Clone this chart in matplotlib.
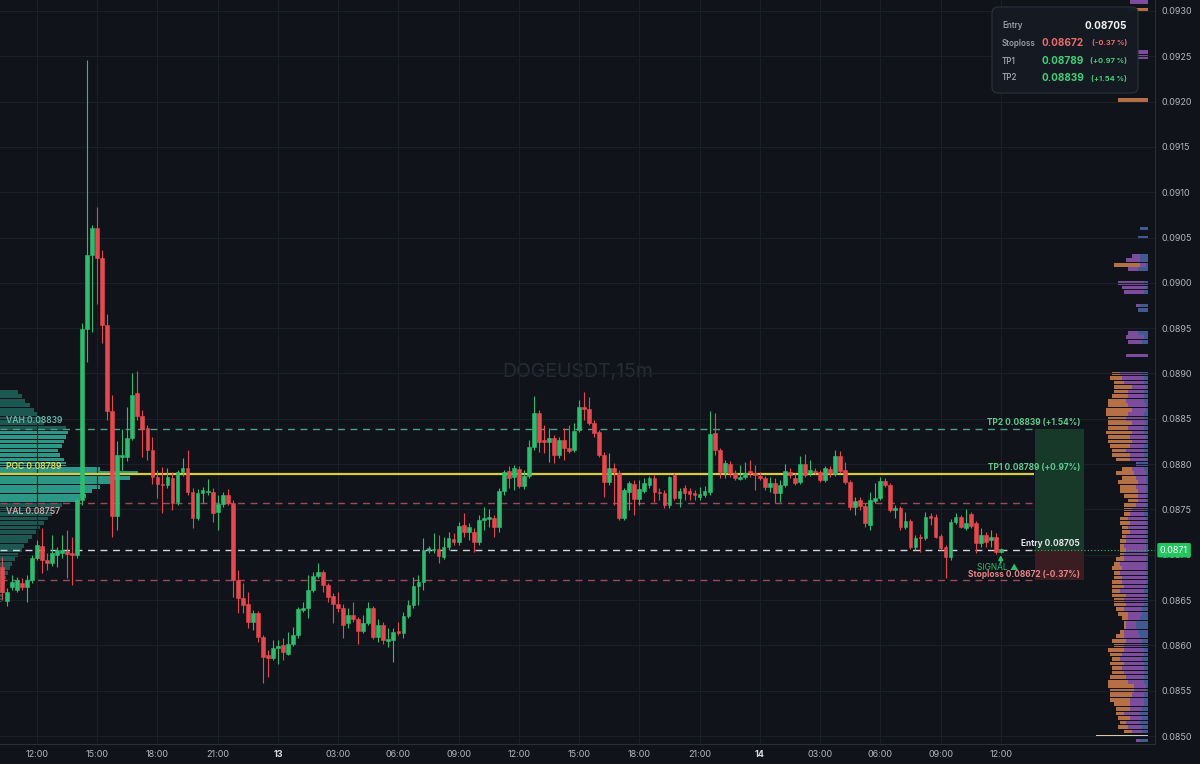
import numpy as np
import pandas as pd
import matplotlib
matplotlib.use("Agg")
import matplotlib.pyplot as plt
from matplotlib.patches import FancyBboxPatch, Rectangle
from matplotlib.transforms import blended_transform_factory, IdentityTransform

# ---------------- data ----------------
SYMBOL = "DOGEUSDT,15m"
START = "2024-01-12 10:15"

open_ = [0.08686,0.08649,0.08664,0.08661,0.08669,0.08664,0.08672,0.08696,0.08710,0.08694,
 0.08691,0.08700,0.08702,0.08704,0.08702,0.08700,0.08760,0.08949,0.09031,0.09061,
 0.09027,0.08954,0.08859,0.08743,0.08808,0.08808,0.08829,0.08878,0.08853,0.08840,
 0.08816,0.08786,0.08778,0.08777,0.08785,0.08758,0.08791,0.08796,0.08769,0.08741,
 0.08768,0.08769,0.08769,0.08747,0.08756,0.08766,0.08757,0.08672,0.08652,0.08646,
 0.08626,0.08636,0.08609,0.08589,0.08586,0.08597,0.08600,0.08591,0.08601,0.08611,
 0.08639,0.08641,0.08661,0.08677,0.08681,0.08667,0.08654,0.08646,0.08641,0.08625,
 0.08634,0.08629,0.08616,0.08625,0.08641,0.08609,0.08623,0.08605,0.08606,0.08616,
 0.08614,0.08632,0.08645,0.08665,0.08670,0.08705,0.08705,0.08706,0.08698,0.08709,
 0.08717,0.08714,0.08733,0.08725,0.08725,0.08714,0.08738,0.08739,0.08741,0.08731,
 0.08770,0.08792,0.08786,0.08795,0.08776,0.08787,0.08819,0.08856,0.08827,0.08824,
 0.08829,0.08810,0.08827,0.08818,0.08816,0.08838,0.08863,0.08861,0.08845,0.08835,
 0.08810,0.08780,0.08796,0.08790,0.08741,0.08769,0.08778,0.08762,0.08770,0.08777,
 0.08785,0.08769,0.08768,0.08755,0.08788,0.08763,0.08774,0.08770,0.08768,0.08764,
 0.08766,0.08769,0.08834,0.08816,0.08791,0.08800,0.08790,0.08784,0.08786,0.08792,
 0.08790,0.08787,0.08785,0.08775,0.08779,0.08768,0.08777,0.08791,0.08785,0.08780,
 0.08800,0.08790,0.08792,0.08791,0.08782,0.08795,0.08789,0.08809,0.08794,0.08780,
 0.08753,0.08760,0.08754,0.08733,0.08759,0.08763,0.08781,0.08777,0.08749,0.08752,
 0.08731,0.08737,0.08709,0.08720,0.08718,0.08743,0.08742,0.08721,0.08709,0.08698,
 0.08736,0.08742,0.08730,0.08745,0.08735,0.08713,0.08722,0.08716,0.08720,0.08703]

high = [0.08698,0.08663,0.08678,0.08676,0.08674,0.08678,0.08700,0.08716,0.08730,0.08702,
 0.08722,0.08709,0.08722,0.08727,0.08720,0.08763,0.08956,0.09246,0.09064,0.09084,
 0.09036,0.08966,0.08876,0.08826,0.08839,0.08863,0.08901,0.08903,0.08860,0.08843,
 0.08830,0.08794,0.08797,0.08796,0.08791,0.08794,0.08807,0.08816,0.08774,0.08773,
 0.08775,0.08784,0.08774,0.08766,0.08769,0.08773,0.08760,0.08683,0.08669,0.08659,
 0.08639,0.08638,0.08611,0.08595,0.08606,0.08606,0.08608,0.08615,0.08620,0.08642,
 0.08648,0.08678,0.08681,0.08691,0.08683,0.08669,0.08658,0.08659,0.08646,0.08641,
 0.08648,0.08631,0.08633,0.08648,0.08643,0.08629,0.08626,0.08619,0.08619,0.08626,
 0.08637,0.08650,0.08675,0.08678,0.08718,0.08710,0.08724,0.08722,0.08720,0.08725,
 0.08724,0.08736,0.08746,0.08735,0.08730,0.08744,0.08753,0.08750,0.08744,0.08774,
 0.08794,0.08798,0.08799,0.08798,0.08794,0.08827,0.08875,0.08860,0.08843,0.08840,
 0.08832,0.08830,0.08840,0.08843,0.08845,0.08871,0.08880,0.08874,0.08849,0.08838,
 0.08813,0.08812,0.08801,0.08794,0.08774,0.08781,0.08782,0.08782,0.08785,0.08787,
 0.08788,0.08774,0.08771,0.08787,0.08790,0.08774,0.08777,0.08774,0.08771,0.08775,
 0.08776,0.08859,0.08856,0.08818,0.08805,0.08803,0.08794,0.08799,0.08802,0.08805,
 0.08799,0.08791,0.08787,0.08786,0.08785,0.08782,0.08800,0.08796,0.08790,0.08809,
 0.08811,0.08805,0.08796,0.08794,0.08798,0.08798,0.08816,0.08814,0.08802,0.08782,
 0.08764,0.08764,0.08757,0.08769,0.08779,0.08786,0.08785,0.08779,0.08755,0.08754,
 0.08747,0.08739,0.08722,0.08723,0.08747,0.08746,0.08745,0.08723,0.08711,0.08739,
 0.08746,0.08744,0.08750,0.08747,0.08737,0.08730,0.08725,0.08727,0.08724,0.08707]

low = [0.08650,0.08643,0.08661,0.08659,0.08661,0.08648,0.08669,0.08694,0.08680,0.08683,
 0.08688,0.08686,0.08696,0.08674,0.08667,0.08696,0.08755,0.08913,0.08946,0.08977,
 0.08934,0.08849,0.08720,0.08727,0.08794,0.08803,0.08827,0.08849,0.08808,0.08805,
 0.08778,0.08763,0.08746,0.08774,0.08749,0.08755,0.08787,0.08766,0.08730,0.08738,
 0.08757,0.08766,0.08736,0.08727,0.08753,0.08755,0.08653,0.08636,0.08636,0.08619,
 0.08617,0.08604,0.08558,0.08565,0.08584,0.08580,0.08584,0.08589,0.08599,0.08608,
 0.08637,0.08630,0.08659,0.08674,0.08659,0.08648,0.08625,0.08637,0.08608,0.08619,
 0.08626,0.08602,0.08614,0.08622,0.08607,0.08604,0.08601,0.08598,0.08582,0.08611,
 0.08608,0.08630,0.08641,0.08645,0.08661,0.08702,0.08702,0.08691,0.08695,0.08705,
 0.08711,0.08711,0.08720,0.08716,0.08703,0.08711,0.08727,0.08731,0.08720,0.08725,
 0.08766,0.08774,0.08771,0.08774,0.08773,0.08785,0.08816,0.08813,0.08812,0.08802,
 0.08801,0.08807,0.08805,0.08812,0.08813,0.08835,0.08849,0.08843,0.08830,0.08808,
 0.08764,0.08777,0.08755,0.08738,0.08738,0.08749,0.08744,0.08755,0.08768,0.08774,
 0.08758,0.08760,0.08752,0.08752,0.08760,0.08753,0.08760,0.08760,0.08760,0.08760,
 0.08764,0.08766,0.08810,0.08785,0.08785,0.08786,0.08782,0.08782,0.08784,0.08786,
 0.08771,0.08782,0.08771,0.08769,0.08757,0.08758,0.08775,0.08785,0.08777,0.08778,
 0.08786,0.08787,0.08789,0.08780,0.08780,0.08786,0.08787,0.08790,0.08778,0.08749,
 0.08744,0.08749,0.08731,0.08727,0.08757,0.08760,0.08775,0.08747,0.08741,0.08727,
 0.08728,0.08706,0.08705,0.08703,0.08716,0.08733,0.08718,0.08705,0.08674,0.08694,
 0.08734,0.08730,0.08727,0.08730,0.08702,0.08709,0.08709,0.08709,0.08701,0.08702]

close = [0.08659,0.08659,0.08670,0.08672,0.08664,0.08672,0.08696,0.08711,0.08694,0.08691,
 0.08702,0.08705,0.08705,0.08701,0.08700,0.08760,0.08949,0.09031,0.09061,0.09027,
 0.08954,0.08859,0.08743,0.08810,0.08810,0.08829,0.08876,0.08853,0.08839,0.08816,
 0.08786,0.08778,0.08777,0.08786,0.08757,0.08791,0.08796,0.08769,0.08741,0.08768,
 0.08771,0.08770,0.08746,0.08756,0.08766,0.08757,0.08672,0.08652,0.08645,0.08626,
 0.08636,0.08609,0.08587,0.08586,0.08597,0.08599,0.08593,0.08602,0.08611,0.08640,
 0.08641,0.08661,0.08677,0.08681,0.08667,0.08653,0.08646,0.08641,0.08622,0.08633,
 0.08629,0.08616,0.08625,0.08641,0.08609,0.08623,0.08606,0.08607,0.08615,0.08614,
 0.08632,0.08645,0.08665,0.08670,0.08705,0.08707,0.08706,0.08699,0.08709,0.08718,
 0.08714,0.08732,0.08725,0.08731,0.08714,0.08738,0.08741,0.08742,0.08731,0.08770,
 0.08791,0.08785,0.08796,0.08776,0.08787,0.08819,0.08856,0.08824,0.08824,0.08829,
 0.08810,0.08827,0.08818,0.08814,0.08837,0.08863,0.08861,0.08845,0.08834,0.08810,
 0.08780,0.08796,0.08791,0.08741,0.08771,0.08779,0.08762,0.08773,0.08779,0.08785,
 0.08769,0.08768,0.08755,0.08786,0.08763,0.08770,0.08768,0.08767,0.08766,0.08767,
 0.08770,0.08833,0.08816,0.08791,0.08801,0.08790,0.08785,0.08786,0.08790,0.08790,
 0.08788,0.08785,0.08775,0.08779,0.08768,0.08777,0.08792,0.08788,0.08779,0.08800,
 0.08788,0.08794,0.08791,0.08782,0.08796,0.08790,0.08809,0.08792,0.08780,0.08753,
 0.08759,0.08754,0.08735,0.08760,0.08763,0.08781,0.08777,0.08749,0.08752,0.08731,
 0.08737,0.08709,0.08718,0.08718,0.08742,0.08741,0.08720,0.08707,0.08698,0.08736,
 0.08742,0.08731,0.08735,0.08732,0.08713,0.08722,0.08714,0.08720,0.08703,0.08706]

# trade levels / value area
entry, stoploss, tp1, tp2 = 0.08705, 0.08672, 0.08789, 0.08839
poc, vah, val = 0.08789, 0.08839, 0.08757
last_price_text = "0.0871"
info_rows = [("Entry", "0.08705", ""), ("Stoploss", "0.08672", "(-0.37 %)"),
             ("TP1", "0.08789", "(+0.97 %)"), ("TP2", "0.08839", "(+1.54 %)")]

# left session volume profile (price bins, volume)
lp_price = np.round(np.arange(0.08650, 0.088801, 0.00005), 5)
lp_vol = [2,3,4,4,5,6,8,10,12,15,18,22,24,28,32,36,40,44,48,52,56,62,
          80,86,92,100,112,130,138,100,66,64,60,58,62,64,66,68,66,
          44,42,38,34,30,25,22,18]

# right visible-range volume profile (three stacked parts per row)
rp_price_dense = np.round(np.arange(0.08500, 0.089001, 0.00005), 5)
rp_orange_dense = [0,8,10,6,12,8,14,16,20,22, 24,26,20,16,12,10,14,8,12,16,
                   10,14,8,4,2,2,6,10,8,12, 10,14,8,12,10,8,6,10,6,8,
                   4,6,4,6,4,8,6,10,8,6, 8,12,10,14,18,16,20,14,18,10,
                   0,14,18,14,20,24,22,26,20,24, 18,22,26,20,18,16,14,18,10,12, 8]
rp_purple_dense = [0,10,14,14,12,16,12,14,14,12, 12,12,16,18,20,22,20,22,22,20,
                   18,16,16,14,10,10,12,14,18,18, 20,20,24,22,24,24,26,24,26,22,
                   22,20,22,20,20,16,18,16,18,14, 12,10,8,8,8,10,8,10,12,12,
                   2,16,14,18,14,14,16,12,16,14, 18,16,14,18,18,16,16,14,20,22, 22]
rp_blue_dense = [0,6,6,8,6,8,6,4,4,4, 2,2,4,4,4,4,4,6,4,4,
                 6,6,8,10,12,12,8,6,6,4, 4,2,4,2,2,2,2,2,2,2,
                 2,2,2,2,2,2,2,2,2,4, 4,2,2,2,2,2,2,2,2,4,
                 10,2,4,4,4,2,2,4,4,2, 4,4,2,2,4,4,4,2,4,4, 6]
rp_price_sparse = [0.08495,0.08920,0.08935,0.08940,0.08945,0.08970,0.08975,0.08990,0.08995,
                   0.09000,0.09015,0.09020,0.09025,0.09030,0.09050,0.09060,0.09202,0.09249,
                   0.09255,0.09301,0.09310]
rp_orange_sparse = [0,0,0,0,0,0,0,0,0,0,0,26,0,0,0,0,30,0,0,20,0]
rp_purple_sparse = [4,22,14,18,10,0,4,20,24,26,10,6,14,8,0,0,0,10,12,0,18]
rp_blue_sparse = [8,0,6,4,10,10,8,4,2,4,10,2,8,8,10,8,0,0,0,0,0]
rp_hi_price = [0.08500]
rp_hi_vol = [52]

# axis ticks
price_ticks = np.round(np.arange(0.0850, 0.09301, 0.0005), 4)
time_tick_hours = np.arange(12, 61, 3)
time_tick_labels = ["12:00", "15:00", "18:00", "21:00", "13", "03:00", "06:00", "09:00",
                    "12:00", "15:00", "18:00", "21:00", "14", "03:00", "06:00", "09:00", "12:00"]

# ---------------- style ----------------
BG = "#10131a"
GRID = "#1b1f28"
TXT = "#b2b5be"
UP = "#2ebd6e"
DN = "#e5484d"
plt.rcParams['font.family'] = ['Inter', 'DejaVu Sans']

W, H = 1200, 764
fig = plt.figure(figsize=(W / 100, H / 100), dpi=100, facecolor=BG)
rect = [0, 20 / H, 1155 / W, 744 / H]
XLIM = (10.16, 67.68)
YLIM = (0.084912, 0.093121)

# --- left profile (behind) ---
ax_lp = fig.add_axes(rect, zorder=0)
ax_lp.set_xlim(0, 1155)
ax_lp.set_ylim(*YLIM)
ax_lp.axis("off")
lp_cols = ["#2e9f8d" if (val - 1e-7) <= p <= (vah + 1e-7) else "#1d5b55" for p in lp_price]
ax_lp.barh(lp_price, lp_vol, height=0.000042, color=lp_cols, alpha=0.95, linewidth=0)

# --- right profile (behind) ---
ax_rp = fig.add_axes([0, 20 / H, 1148 / W, 744 / H], zorder=0)
ax_rp.set_xlim(1148, 0)
ax_rp.set_ylim(*YLIM)
ax_rp.axis("off")
rp_price = np.concatenate([rp_price_dense, rp_price_sparse])
rp_b = np.array(rp_blue_dense + rp_blue_sparse, float)
rp_p = np.array(rp_purple_dense + rp_purple_sparse, float)
rp_o = np.array(rp_orange_dense + rp_orange_sparse, float)
hh = 0.000041
ax_rp.barh(rp_price, rp_b, left=0, height=hh, color="#4a68a8", alpha=0.85, linewidth=0)
ax_rp.barh(rp_price, rp_p, left=rp_b, height=hh, color="#9257b5", alpha=0.85, linewidth=0)
ax_rp.barh(rp_price, rp_o, left=rp_b + rp_p, height=hh, color="#d3814e", alpha=0.85, linewidth=0)
ax_rp.barh(rp_hi_price, rp_hi_vol, left=0, height=0.00003, color="#ddd5bb", linewidth=0)

# --- main axes ---
ax = fig.add_axes(rect, zorder=1)
ax.set_facecolor("none")
ax.set_xlim(*XLIM)
ax.set_ylim(*YLIM)

t = pd.date_range(START, periods=len(close), freq="15min")
x = ((t - t[0].normalize()) / pd.Timedelta(hours=1)).to_numpy()
o = np.array(open_); c = np.array(close); hi = np.array(high); lo = np.array(low)
cols = np.where(c >= o, UP, DN)

ax.set_yticks(price_ticks)
ax.set_yticklabels([f"{v:.4f}" for v in price_ticks])
ax.yaxis.tick_right()
ax.set_xticks(time_tick_hours)
ax.set_xticklabels(time_tick_labels)
ax.tick_params(axis="y", length=0, pad=5, labelsize=6.5, colors=TXT)
ax.tick_params(axis="x", length=0, pad=4, labelsize=6.5, colors=TXT)
for lab in ax.get_xticklabels():
    if lab.get_text() in ("13", "14"):
        lab.set_fontweight("bold")
        lab.set_color("#d8dbe2")
ax.grid(True, color=GRID, linewidth=0.8)
ax.set_axisbelow(True)
for s in ("top", "left"):
    ax.spines[s].set_visible(False)
for s in ("right", "bottom"):
    ax.spines[s].set_color("#2a2e39")
    ax.spines[s].set_linewidth(0.8)

# watermark
ax.text(0.5, 0.5, SYMBOL, transform=ax.transAxes, ha="center", va="center",
        fontsize=14, color="#272b35", zorder=0.5)

# levels
LINE_END = 61.65
BOX_X0, BOX_X1 = 61.70, 64.14
LABEL_X = 63.94
x0 = XLIM[0]
ax.hlines(entry, LINE_END, XLIM[1], colors="#22c55e", linestyles=[(0, (1, 2))],
          linewidth=0.8, zorder=1.5)
dash = (0, (5, 4))
ax.hlines(tp2, x0, LINE_END, colors="#4f9e86", linestyles=[dash], linewidth=1.0, zorder=2)
ax.hlines(val, x0, LINE_END, colors="#9a4c56", linestyles=[dash], linewidth=1.0, zorder=2)
ax.hlines(stoploss, x0, LINE_END, colors="#9a4c56", linestyles=[dash], linewidth=1.0, zorder=2)
ax.hlines(entry, x0, LINE_END, colors="#d2d5dc", linestyles=[dash], linewidth=1.0, zorder=2)
ax.hlines(poc, x0, LINE_END, colors="#d6cd3a", linewidth=1.6, zorder=2.2)

ax.add_patch(Rectangle((BOX_X0, entry), BOX_X1 - BOX_X0, tp2 - entry,
                       facecolor="#17392a", edgecolor="none", zorder=1.2))
ax.add_patch(Rectangle((BOX_X0, stoploss), BOX_X1 - BOX_X0, entry - stoploss,
                       facecolor="#3a1c23", edgecolor="none", zorder=1.2))

# candles
ax.vlines(x, lo, hi, colors=cols, linewidth=0.8, zorder=3)
ax.bar(x, np.abs(c - o), bottom=np.minimum(o, c), width=0.1875, color=cols,
       edgecolor=cols, linewidth=0.4, zorder=4)

# level labels (right)
kw = dict(textcoords="offset points", ha="right", va="bottom", fontsize=6.0, fontweight="bold", zorder=6)
ax.annotate("TP2 0.08839 (+1.54%)", (LABEL_X, tp2), xytext=(0, 1.5), color="#5fcb8b", **kw)
ax.annotate("TP1 0.08789 (+0.97%)", (LABEL_X, tp1), xytext=(0, 1.5), color="#5fcb8b", **kw)
ax.annotate("Entry 0.08705", (LABEL_X, entry), xytext=(0, 1.5), color="#e4e6ea", **kw)
ax.annotate("Stoploss 0.08672 (-0.37%)", (LABEL_X, stoploss), xytext=(0, 0.8), color="#e98585", **kw)

# left labels
kl = dict(textcoords="offset points", ha="left", fontsize=6.2, fontweight="semibold", zorder=6)
ax.annotate("VAH 0.08839", (x0, vah), xytext=(4, 2.5), va="bottom", color="#66b8a8", **kl)
ax.annotate("POC 0.08789", (x0, poc), xytext=(4, 2.5), va="bottom", color="#ecd94a", **kl)
ax.annotate("VAL 0.08757", (x0, val), xytext=(4, -2.5), va="top", color="#d4a4a6", **kl)

# signal marker on last candle
ax.annotate("", xy=(x[-1], lo[-1]), xycoords="data", xytext=(0, -7), textcoords="offset points",
            arrowprops=dict(arrowstyle="-|>", color="#2ebd6e", lw=1.3, mutation_scale=6,
                            shrinkA=0, shrinkB=1.5), zorder=6)
ax.annotate("SIGNAL \u25B2", (x[-1], lo[-1]), xytext=(-2, -10.5), textcoords="offset points",
            ha="center", va="center", fontsize=6.0, color="#2ebd6e", zorder=6)

# last-price badge
trans = blended_transform_factory(ax.transAxes, ax.transData)
ax.text(1.0 + 5 / 1155, entry, last_price_text, transform=trans, ha="left", va="center",
        fontsize=6.5, color="white", zorder=10, clip_on=False,
        bbox=dict(boxstyle="round,pad=0.3,rounding_size=0.15", fc="#22c55e", ec="none"))

# info box (top right)
box = FancyBboxPatch((992, H - 93), 146, 86, boxstyle="round,pad=0,rounding_size=6",
                     transform=IdentityTransform(), facecolor="#161a22", edgecolor="#2c313b",
                     linewidth=0.8, alpha=0.97, zorder=20)
fig.patches.append(box)
row_y = [26, 43, 61, 78]
val_cols = ["#f2f3f5", "#ef6b6b", "#3fd27a", "#3fd27a"]
for (name, v, pct), ry, vc in zip(info_rows, row_y, val_cols):
    fy = 1 - ry / H
    fig.text(1002 / W, fy, name, ha="left", va="center", fontsize=5.8, color="#9a9ea8",
             fontweight="semibold", zorder=21)
    if pct:
        fig.text(1084 / W, fy, v, ha="right", va="center", fontsize=7.2, color=vc,
                 fontweight="bold", zorder=21)
        fig.text(1127 / W, fy, pct, ha="right", va="center", fontsize=5.4, color=vc,
                 fontweight="bold", zorder=21)
    else:
        fig.text(1127 / W, fy, v, ha="right", va="center", fontsize=7.2, color=vc,
                 fontweight="bold", zorder=21)

fig.savefig("out.png", dpi=100, facecolor=BG)
